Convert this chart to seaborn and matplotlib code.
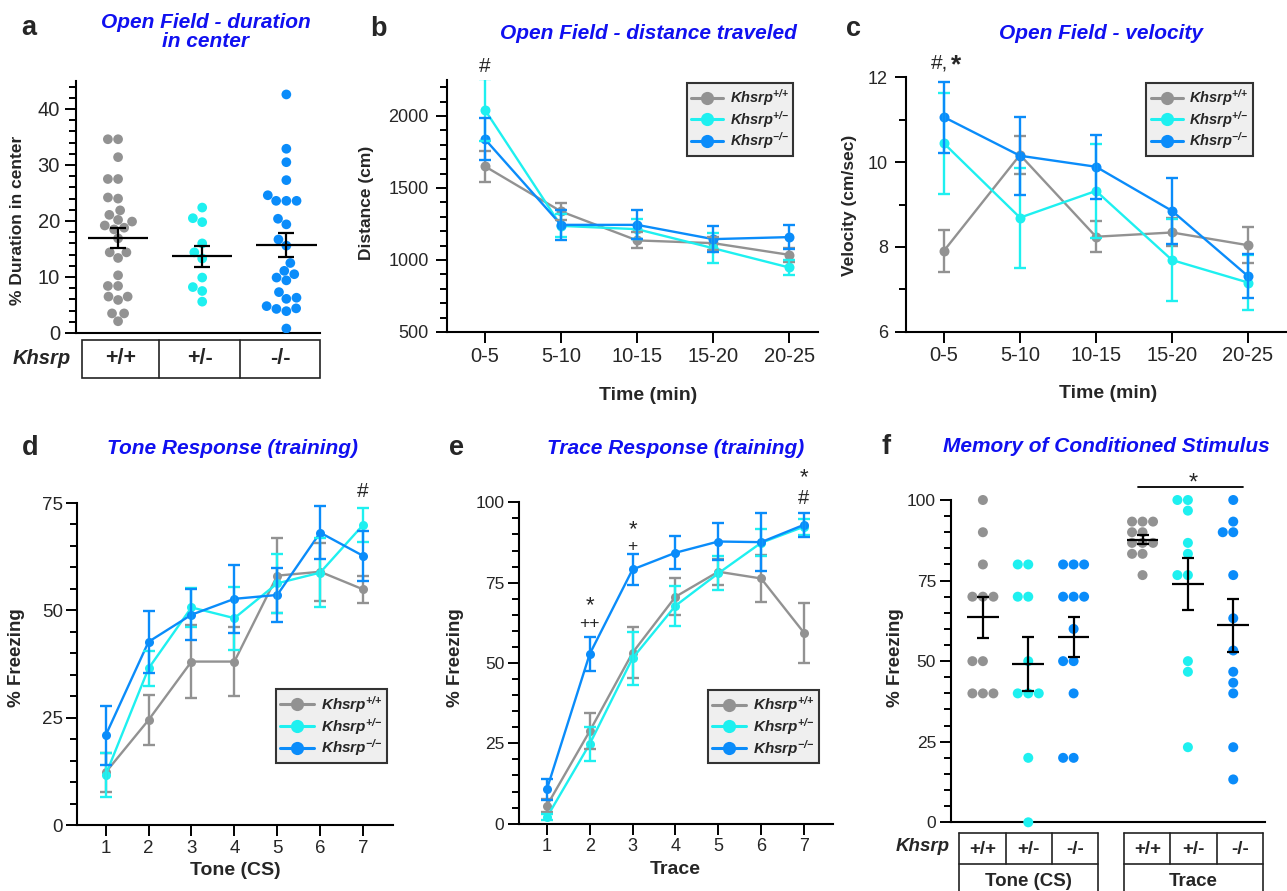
import numpy as np
import pandas as pd
import matplotlib
matplotlib.use("Agg")
import matplotlib.pyplot as plt
import matplotlib.transforms as mtrans
from matplotlib.lines import Line2D
from matplotlib.patches import Rectangle
from matplotlib.ticker import MultipleLocator
import seaborn as sns

# ---------------- data ----------------
genotypes = ["+/+", "+/-", "-/-"]
colors = ["#929292", "#1ef0f0", "#0a8cfa"]
title_blue = "#1010f0"

# (a) open field duration in center (%)
center_wt = [34.6, 34.6, 31.4, 27.5, 27.5, 24.0, 24.2, 21.9, 21.1, 19.9, 20.2, 19.2, 18.5, 18.8,
             16.9, 14.4, 14.4, 13.4, 10.3, 8.4, 8.4, 6.5, 6.5, 5.9, 3.5, 3.5, 2.1]
center_het = [22.4, 19.8, 20.5, 16.0, 14.4, 13.3, 9.9, 8.2, 7.5, 5.6]
center_ko = [42.6, 32.9, 30.5, 27.3, 24.6, 23.6, 23.6, 23.6, 20.4, 19.4, 16.7, 15.6, 12.5,
             10.5, 11.1, 9.4, 9.9, 7.3, 6.3, 6.1, 4.8, 4.3, 3.9, 4.4, 0.8]
center_mean = [16.9, 13.7, 15.7]
center_sem = [1.8, 1.9, 2.2]

# (b) distance traveled
time_bins = ["0-5", "5-10", "10-15", "15-20", "20-25"]
dist_wt = [1650, 1337, 1136, 1117, 1036]
dist_wt_sem = [107, 57, 55, 45, 50]
dist_het = [2041, 1237, 1214, 1082, 948]
dist_het_sem = [215, 80, 70, 104, 55]
dist_ko = [1838, 1244, 1244, 1145, 1159]
dist_ko_sem = [145, 105, 100, 88, 85]

# (c) velocity
vel_wt = [7.91, 10.17, 8.24, 8.34, 8.04]
vel_wt_sem = [0.50, 0.44, 0.36, 0.33, 0.43]
vel_het = [10.44, 8.69, 9.32, 7.69, 7.16]
vel_het_sem = [1.20, 1.18, 1.10, 0.97, 0.64]
vel_ko = [11.06, 10.15, 9.89, 8.85, 7.31]
vel_ko_sem = [0.84, 0.92, 0.75, 0.78, 0.52]

# (d) tone response (training)
trials = [1, 2, 3, 4, 5, 6, 7]
tone_wt = [12.3, 24.5, 38.1, 38.1, 58.1, 59.0, 54.9]
tone_wt_sem = [4.5, 5.9, 8.5, 8.0, 8.7, 6.7, 3.1]
tone_het = [11.7, 36.5, 50.7, 48.2, 56.3, 58.8, 69.9]
tone_het_sem = [5.1, 4.0, 4.6, 7.3, 6.8, 8.1, 3.9]
tone_ko = [20.9, 42.7, 49.0, 52.7, 53.6, 68.1, 62.7]
tone_ko_sem = [6.9, 7.2, 5.9, 7.9, 6.2, 6.1, 5.9]

# (e) trace response (training)
trace_wt = [5.6, 28.8, 53.2, 70.6, 78.4, 76.3, 59.4]
trace_wt_sem = [2.0, 5.5, 8.0, 5.7, 4.0, 7.2, 9.3]
trace_het = [2.0, 24.8, 51.5, 67.8, 77.9, 87.4, 92.4]
trace_het_sem = [1.0, 5.4, 8.3, 6.3, 5.3, 4.2, 2.5]
trace_ko = [10.7, 52.8, 79.1, 84.3, 87.8, 87.6, 93.0]
trace_ko_sem = [3.2, 5.4, 4.9, 5.2, 5.9, 9.0, 3.8]

# (f) memory of conditioned stimulus
mem_tone_wt = [100, 90, 80, 70, 70, 70, 50, 50, 40, 40, 40]
mem_tone_het = [80, 80, 70, 70, 50, 40, 40, 40, 20, 0]
mem_tone_ko = [80, 80, 80, 70, 70, 70, 60, 50, 50, 40, 20, 20]
mem_trace_wt = [93.3, 93.3, 93.3, 90, 90, 86.7, 86.7, 86.7, 83.3, 83.3, 76.7]
mem_trace_het = [100, 100, 96.7, 86.7, 83.3, 76.7, 76.7, 50, 46.7, 23.3]
mem_trace_ko = [100, 93.3, 90, 90, 76.7, 63.3, 53.3, 46.7, 43.3, 40, 23.3, 13.3]
mem_tone_mean = [63.6, 49.0, 57.5]
mem_tone_sem = [6.3, 8.4, 6.3]
mem_trace_mean = [87.6, 74.0, 61.1]
mem_trace_sem = [1.4, 8.1, 8.3]
mem_tests = ["Tone (CS)", "Trace"]

# ---------------- style ----------------
sns.set_style("ticks")
plt.rcParams["font.family"] = ["Liberation Sans", "DejaVu Sans"]
plt.rcParams["mathtext.fontset"] = "custom"
plt.rcParams["mathtext.rm"] = "Liberation Sans"
plt.rcParams["mathtext.it"] = "Liberation Sans:italic"
plt.rcParams["mathtext.bf"] = "Liberation Sans:bold"
plt.rcParams["mathtext.bfit"] = "Liberation Sans:italic:bold"
plt.rcParams["axes.linewidth"] = 1.5

W, H = 1287, 891
fig = plt.figure(figsize=(W / 100, H / 100), dpi=100)


def px_axes(left, top, right, bottom):
    return fig.add_axes([left / W, (H - bottom) / H, (right - left) / W, (bottom - top) / H])


def style_axes(ax, ymaj, ymin, ysize, xsize=None, ypad=3, xticks=True):
    sns.despine(ax=ax)
    ax.yaxis.set_major_locator(MultipleLocator(ymaj))
    ax.yaxis.set_minor_locator(MultipleLocator(ymin))
    ax.tick_params(axis="y", which="major", length=8, width=1.4, labelsize=ysize, pad=ypad, color="black")
    ax.tick_params(axis="y", which="minor", length=5, width=1.4, color="black")
    if xticks:
        ax.tick_params(axis="x", which="major", length=8, width=1.4,
                       labelsize=xsize or ysize, pad=2.5, color="black")
    else:
        ax.tick_params(axis="x", which="both", length=0, labelbottom=False)
    for s in ax.spines.values():
        s.set_linewidth(1.5)
        s.set_color("black")


def set_labels(ax, ylabel, ypos, ysize, xlabel=None, xpos=None, xsize=14):
    ax.set_ylabel(ylabel, fontsize=ysize, fontweight="bold")
    ax.yaxis.set_label_coords(*ypos)
    ax.yaxis.label.set_va("center")
    if xlabel is not None:
        ax.set_xlabel(xlabel, fontsize=xsize, fontweight="bold")
        ax.xaxis.set_label_coords(*xpos)
        ax.xaxis.label.set_va("center")
    else:
        ax.set_xlabel("")


def set_title(ax, text, x, y):
    ax.set_title(text, x=x, y=y, pad=0, va="center", ha="center", fontsize=15,
                 fontweight="bold", fontstyle="italic", color=title_blue, linespacing=1.0)


def sup_label(sup):
    s = "".join("{" + ch + "}" if ch in "+-" else ch for ch in sup)
    return r"$\mathbfit{Khsrp}^{\mathbfit{" + s + "}}$"


def add_legend(ax, loc, anchor, fs):
    handles = [Line2D([0], [0], color=c, lw=2.2, marker="o", markersize=9.5, markeredgewidth=0)
               for c in colors]
    leg = ax.legend(handles, [sup_label(g) for g in genotypes], loc=loc, bbox_to_anchor=anchor,
                    borderaxespad=0, fontsize=fs, frameon=True, fancybox=False, framealpha=1,
                    handlelength=2.2, handletextpad=0.45, labelspacing=0.05, borderpad=0.3)
    leg.get_frame().set_facecolor("#efefef")
    leg.get_frame().set_edgecolor("#333333")
    leg.get_frame().set_linewidth(1.5)


def line_panel(ax, xvals, means, sems, msize):
    rows = []
    for g, m in zip(genotypes, means):
        for x, v in zip(xvals, m):
            rows.append({"x": x, "y": v, "g": g})
    df = pd.DataFrame(rows)
    sns.lineplot(data=df, x="x", y="y", hue="g", hue_order=genotypes, palette=colors,
                 marker="o", markersize=msize, markeredgewidth=0, linewidth=1.7,
                 legend=False, ax=ax, errorbar=None, sort=False)
    for m, s, c in zip(means, sems, colors):
        ax.errorbar(xvals, m, yerr=s, fmt="none", ecolor=c, elinewidth=1.7,
                    capsize=4.2, capthick=1.7, zorder=2.5)


def mean_sem(ax, xs, means, sems, half, cap):
    ax.hlines(means, [x - half for x in xs], [x + half for x in xs], color="black", lw=1.6, zorder=4)
    ax.errorbar(xs, means, yerr=sems, fmt="none", ecolor="black", elinewidth=1.6,
                capsize=cap, capthick=1.6, zorder=4)


# ---------------- panel a ----------------
axa = px_axes(76, 81, 320, 333)
df_a = pd.DataFrame({
    "g": [genotypes[0]] * len(center_wt) + [genotypes[1]] * len(center_het) + [genotypes[2]] * len(center_ko),
    "v": center_wt + center_het + center_ko})
sns.swarmplot(data=df_a, x="g", y="v", hue="g", order=genotypes, hue_order=genotypes,
              palette=colors, size=7.0, linewidth=0, legend=False, ax=axa)
mean_sem(axa, [0, 1, 2], center_mean, center_sem, 0.36, 6)
axa.set_xlim(-0.5, 2.4)
axa.set_ylim(0, 45)
style_axes(axa, 10, 2, 14.5, ypad=3.5, xticks=False)
set_labels(axa, "% Duration in center", (-0.24, 0.445), 12.5)
set_title(axa, "Open Field - duration\nin center", 0.531, 1.194)
tra = mtrans.blended_transform_factory(axa.transData, axa.transAxes)
axa.add_patch(Rectangle((-0.43, -0.1786), 2.83, 0.1508, transform=tra, fill=False,
                        lw=1.2, ec="#222222", clip_on=False))
for xd in [0.49, 1.45]:
    axa.add_line(Line2D([xd, xd], [-0.0278, -0.1786], transform=tra, lw=1.2,
                        color="#222222", clip_on=False))
for xc, g in zip([0.03, 0.97, 1.925], genotypes):
    axa.text(xc, -0.103, g, transform=tra, ha="center", va="center", fontsize=15.5,
             fontweight="bold")
axa.text(-0.902, -0.103, "Khsrp", transform=tra, ha="center", va="center", fontsize=14.5,
         fontweight="bold", fontstyle="italic")

# ---------------- panel b ----------------
axb = px_axes(446.7, 80, 818, 332)
xb = list(range(len(time_bins)))
line_panel(axb, xb, [dist_wt, dist_het, dist_ko], [dist_wt_sem, dist_het_sem, dist_ko_sem], 7.2)
axb.set_xlim(-0.505, 4.38)
axb.set_ylim(500, 2250)
axb.set_xticks(xb, time_bins)
style_axes(axb, 500, 100, 13, xsize=14.5, ypad=5)
set_labels(axb, "Distance (cm)", (-0.2155, 0.514), 12.5, "Time (min)", (0.542, -0.25), 14)
set_title(axb, "Open Field - distance traveled", 0.542, 1.185)
add_legend(axb, "upper right", (0.9335, 0.989), 10.5)
axb.text(0, 2303, "#", ha="center", va="baseline", fontsize=15, clip_on=False)

# ---------------- panel c ----------------
axc = px_axes(906, 77.3, 1286, 331.7)
line_panel(axc, xb, [vel_wt, vel_het, vel_ko], [vel_wt_sem, vel_het_sem, vel_ko_sem], 7.2)
axc.set_xlim(-0.5, 4.5)
axc.set_ylim(6, 12)
axc.set_xticks(xb, time_bins)
style_axes(axc, 2, 1, 13, xsize=14.5, ypad=5)
set_labels(axc, "Velocity (cm/sec)", (-0.149, 0.495), 12.5, "Time (min)", (0.532, -0.241), 14)
set_title(axc, "Open Field - velocity", 0.512, 1.173)
add_legend(axc, "upper right", (0.912, 0.979), 10.5)
axc.text(-0.06, 12.196, "#,", ha="center", va="baseline", fontsize=15, clip_on=False)
axc.text(0.16, 12.12, "*", ha="center", va="baseline", fontsize=19, fontweight="bold", clip_on=False)

# ---------------- panel d ----------------
axd = px_axes(77.3, 503, 392.7, 825.3)
line_panel(axd, trials, [tone_wt, tone_het, tone_ko], [tone_wt_sem, tone_het_sem, tone_ko_sem], 6.5)
axd.set_xlim(0.34, 7.69)
axd.set_ylim(0, 75)
axd.set_xticks(trials)
style_axes(axd, 25, 5, 13.5, ypad=2.5)
set_labels(axd, "% Freezing", (-0.192, 0.521), 13.5, "Tone (CS)", (0.5, -0.139), 14)
set_title(axd, "Tone Response (training)", 0.491, 1.17)
add_legend(axd, "lower right", (0.981, 0.194), 11)
axd.text(7, 76.5, "#", ha="center", va="baseline", fontsize=15, clip_on=False)

# ---------------- panel e ----------------
axe = px_axes(519, 502.3, 832.7, 823.7)
line_panel(axe, trials, [trace_wt, trace_het, trace_ko], [trace_wt_sem, trace_het_sem, trace_ko_sem], 6.5)
axe.set_xlim(0.35, 7.67)
axe.set_ylim(0, 100)
axe.set_xticks(trials)
style_axes(axe, 25, 5, 12.5, xsize=13, ypad=2.5)
set_labels(axe, "% Freezing", (-0.204, 0.517), 13.5, "Trace", (0.4995, -0.144), 14)
set_title(axe, "Trace Response (training)", 0.498, 1.168)
add_legend(axe, "lower right", (0.956, 0.188), 11)
for xt, yt, s, fs in [(2, 66.0, "*", 16), (2, 61.0, "++", 12.5), (3, 89.7, "*", 16),
                      (3, 84.9, "+", 12.5), (7, 106.0, "*", 16), (7, 99.5, "#", 14.5)]:
    axe.text(xt, yt, s, ha="center", va="baseline", fontsize=fs, clip_on=False)

# ---------------- panel f ----------------
axf = px_axes(950.7, 500, 1265, 822.3)
trace_offset = 3.52
pos_f = [0, 1, 2, trace_offset, trace_offset + 1, trace_offset + 2]
groups_f = [mem_tone_wt, mem_tone_het, mem_tone_ko, mem_trace_wt, mem_trace_het, mem_trace_ko]
rows = []
for i, vals in enumerate(groups_f):
    for v in vals:
        rows.append({"pos": pos_f[i], "v": v, "g": genotypes[i % 3]})
df_f = pd.DataFrame(rows)
sns.swarmplot(data=df_f, x="pos", y="v", hue="g", hue_order=genotypes, palette=colors,
              native_scale=True, size=7.2, linewidth=0, legend=False, ax=axf)
for coll in axf.collections:
    coll.set_clip_on(False)
mean_sem(axf, pos_f, mem_tone_mean + mem_trace_mean, mem_tone_sem + mem_trace_sem, 0.35, 4.6)
axf.set_xlim(-0.71, 6.22)
axf.set_ylim(0, 100)
style_axes(axf, 25, 5, 12.5, ypad=2.5, xticks=False)
set_labels(axf, "% Freezing", (-0.177, 0.511), 13.5)
set_title(axf, "Memory of Conditioned Stimulus", 0.496, 1.165)
axf.plot([3.43, 5.73], [104.1, 104.1], color="black", lw=1.3, clip_on=False)
axf.text(4.64, 103.4, "*", ha="center", va="baseline", fontsize=17, clip_on=False)
trf = mtrans.blended_transform_factory(axf.transData, axf.transAxes)
for x0, test in zip([-0.523, trace_offset - 0.407], mem_tests):
    wdt = 3.068
    r1_top, r1_bot, r2_bot = -0.0341, -0.1294, -0.26
    for yy in [r1_top, r1_bot]:
        axf.add_line(Line2D([x0, x0 + wdt], [yy, yy], transform=trf, lw=1.2, color="#222222", clip_on=False))
    for xx in [x0, x0 + wdt]:
        axf.add_line(Line2D([xx, xx], [r1_top, r2_bot], transform=trf, lw=1.2, color="#222222", clip_on=False))
    for k in [1, 2]:
        xx = x0 + wdt * k / 3
        axf.add_line(Line2D([xx, xx], [r1_top, r1_bot], transform=trf, lw=1.2, color="#222222", clip_on=False))
    for k, g in enumerate(genotypes):
        axf.text(x0 + wdt * (k + 0.5) / 3, -0.083, g, transform=trf, ha="center", va="center",
                 fontsize=13.5, fontweight="bold")
    axf.text(x0 + wdt / 2, -0.184, test, transform=trf, ha="center", va="center",
             fontsize=13.5, fontweight="bold")
axf.text(-1.336, -0.0757, "Khsrp", transform=trf, ha="center", va="center", fontsize=13.5,
         fontweight="bold", fontstyle="italic")

# ---------------- panel letters ----------------
for letter, xpx, base in [("a", 29, 35), ("b", 378.8, 36), ("c", 853.7, 36),
                          ("d", 30, 455), ("e", 456.7, 455), ("f", 885.7, 454)]:
    fig.text(xpx / W, 1 - base / H, letter, ha="center", va="baseline", fontsize=19.5,
             fontweight="bold")

fig.savefig("out.png", dpi=100)
